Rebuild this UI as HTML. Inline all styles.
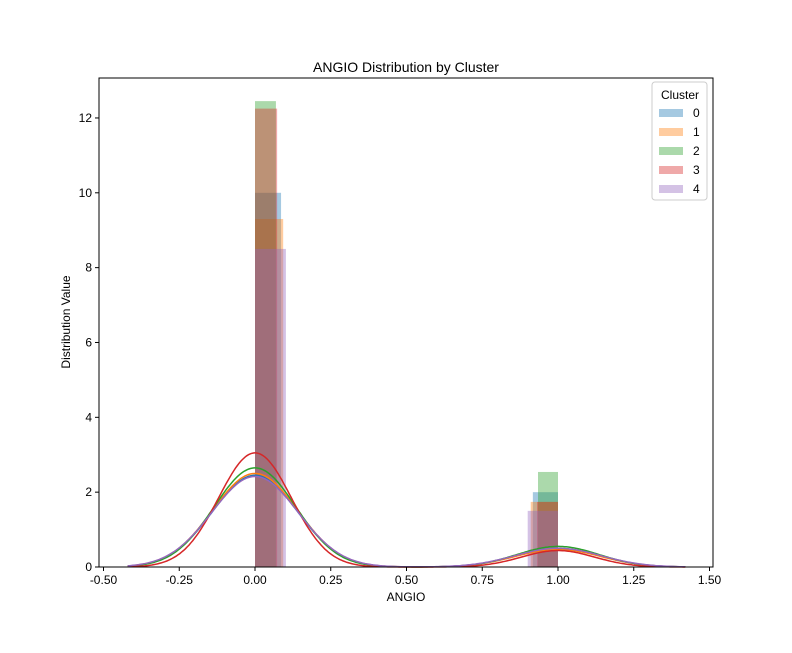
<!DOCTYPE html>
<html><head><meta charset="utf-8"><style>
body{margin:0;background:#fff;}
svg{font-family:"Liberation Sans","DejaVu Sans",sans-serif;}
</style></head><body>
<svg id="c" width="792" height="648" viewBox="0 0 792 648"></svg>
<script>
const clusters=["0","1","2","3","4"];
const colors=["#1f77b4","#ff7f0e","#2ca02c","#d62728","#9467bd"];
const leftBinWidth=[0.086,0.093,0.069,0.073,0.102];
const leftBinHeight=[10.0,9.3,12.45,12.25,8.5];
const rightBinWidth=[0.083,0.090,0.066,0.069,0.100];
const rightBinHeight=[2.0,1.74,2.54,1.74,1.5];
const kdeLeftPeak=[2.45,2.5,2.65,3.05,2.42];
const kdeRightPeak=[0.48,0.47,0.55,0.44,0.5];
const kdeSigma=[0.14,0.14,0.135,0.12,0.142];
const xTicks=[-0.5,-0.25,0,0.25,0.5,0.75,1.0,1.25,1.5];
const yTicks=[0,2,4,6,8,10,12];

const NS="http://www.w3.org/2000/svg";
const svg=document.getElementById('c');
function el(t,a,p){const e=document.createElementNS(NS,t);for(const k in a)e.setAttribute(k,a[k]);(p||svg).appendChild(e);return e;}
const L=99,R=713,T=78,B=567;
const X=v=>255+v*303;
const Y=v=>B-v*37.42;

const bars=el('g',{});


clusters.forEach((c,i)=>{
  const r1=el('rect',{x:X(0),y:Y(leftBinHeight[i]),width:X(leftBinWidth[i])-X(0),height:B-Y(leftBinHeight[i]),fill:colors[i],'fill-opacity':0.4},bars);
  
  
  const r2=el('rect',{x:X(1-rightBinWidth[i]),y:Y(rightBinHeight[i]),width:X(1)-X(1-rightBinWidth[i]),height:B-Y(rightBinHeight[i]),fill:colors[i],'fill-opacity':0.4},bars);
  
  
});
clusters.forEach((c,i)=>{
  let d='';
  for(let k=0;k<=300;k++){
    const x=-0.42+1.84*k/300;
    const s=kdeSigma[i];
    const y=kdeLeftPeak[i]*Math.exp(-x*x/(2*s*s))+kdeRightPeak[i]*Math.exp(-(x-1)*(x-1)/(2*s*s));
    d+=(k?'L':'M')+X(x).toFixed(1)+','+Y(y).toFixed(1);
  }
  const p=el('path',{d:d,fill:'none',stroke:colors[i],'stroke-width':1.5});
  
  
});
const frame=el('rect',{x:L,y:T,width:R-L,height:B-T,fill:'none',stroke:'#000','stroke-width':1});


xTicks.forEach(v=>{
  el('line',{x1:X(v),x2:X(v),y1:B,y2:B+4,stroke:'#000'});
  const t=el('text',{x:X(v),y:B+17,'font-size':12,'text-anchor':'middle'});
  t.textContent=v.toFixed(2);
  
  
});
yTicks.forEach(v=>{
  el('line',{x1:L-4,x2:L,y1:Y(v),y2:Y(v),stroke:'#000'});
  const t=el('text',{x:L-7,y:Y(v)+4,'font-size':12,'text-anchor':'end'});
  t.textContent=v;
  
  
});
let t=el('text',{x:406,y:72,'font-size':14,'text-anchor':'middle'});t.textContent='ANGIO Distribution by Cluster';

t=el('text',{x:406,y:601,'font-size':12,'text-anchor':'middle'});t.textContent='ANGIO';

t=el('text',{x:70,y:322,'font-size':12,'text-anchor':'middle',transform:'rotate(-90 70 322)'});t.textContent='Distribution Value';

const lg=el('g',{});


el('rect',{x:652,y:82,width:55,height:118,rx:3,fill:'#fff','fill-opacity':0.8,stroke:'#ccc'},lg);
t=el('text',{x:680,y:99,'font-size':12,'text-anchor':'middle'},lg);t.textContent='Cluster';
clusters.forEach((c,i)=>{
  const g=el('g',{},lg);
  
  
  const yy=113+i*19;
  el('rect',{x:659,y:yy-4,width:24,height:8,fill:colors[i],'fill-opacity':0.4},g);
  const tt=el('text',{x:693,y:yy+4,'font-size':12},g);tt.textContent=c;
});
</script>
</body></html>
